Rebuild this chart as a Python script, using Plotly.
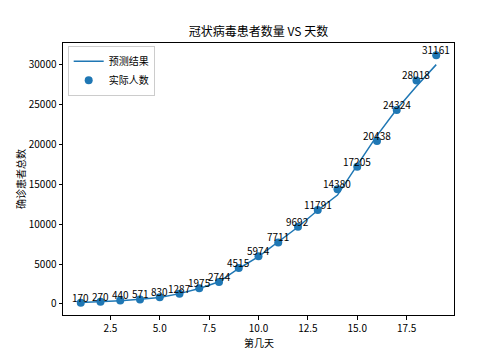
import plotly.graph_objects as go

days = list(range(1, 20))
actual = [170, 270, 440, 571, 830, 1287, 1975, 2744, 4515, 5974, 7711, 9692,
          11791, 14380, 17205, 20438, 24324, 28018, 31161]
predicted = [180, 265, 420, 580, 820, 1300, 1950, 2780, 4450, 5950, 7750, 9650,
             11750, 13650, 17400, 21100, 24400, 27300, 30000]

title = "冠状病毒患者数量 VS 天数"
xlabel = "第几天"
ylabel = "确诊患者总数"
line_name = "预测结果"
scatter_name = "实际人数"
x_ticks = [2.5, 5.0, 7.5, 10.0, 12.5, 15.0, 17.5]
x_tick_labels = ["2.5", "5.0", "7.5", "10.0", "12.5", "15.0", "17.5"]
y_ticks = [0, 5000, 10000, 15000, 20000, 25000, 30000]
y_tick_labels = ["0", "5000", "10000", "15000", "20000", "25000", "30000"]

FONT = "Noto Sans CJK SC"
BLUE = "#1f77b4"

fig = go.Figure()
fig.add_trace(go.Scatter(x=days, y=predicted, mode="lines", name=line_name,
                         line=dict(color=BLUE, width=1.5)))
fig.add_trace(go.Scatter(x=days, y=actual, mode="markers", name=scatter_name,
                         marker=dict(color=BLUE, size=8)))

for d, v in zip(days, actual):
    fig.add_annotation(x=d, y=v, text=str(v), showarrow=False,
                       xanchor="center", yanchor="bottom", yshift=-4,
                       font=dict(family=FONT, size=10, color="black"))

# axis titles
fig.add_annotation(xref="paper", yref="paper", x=0.5, y=-0.1, text=xlabel,
                   showarrow=False, xanchor="center", yanchor="middle",
                   font=dict(family=FONT, size=10, color="black"))
fig.add_annotation(xref="paper", yref="paper", x=-0.11, y=0.5, text=ylabel,
                   showarrow=False, xanchor="center", yanchor="middle", textangle=-90,
                   font=dict(family=FONT, size=10, color="black"))

lo, hi = min(actual), max(actual)
span = hi - lo
fig.update_layout(
    width=504, height=360,
    margin=dict(l=55, r=58, t=35, b=53, autoexpand=False),
    paper_bgcolor="white", plot_bgcolor="white",
    font=dict(family=FONT, size=10, color="black"),
    title=dict(text=title, x=0.497, xanchor="center", y=0.933, yanchor="middle",
               font=dict(family=FONT, size=12, color="black")),
    showlegend=True,
    legend=dict(x=0.012, y=0.99, xanchor="left", yanchor="top",
                bgcolor="rgba(255,255,255,0.8)", bordercolor="#cccccc", borderwidth=1,
                font=dict(family=FONT, size=10, color="black"),
                tracegroupgap=0, itemwidth=30),
)
fig.update_xaxes(range=[0.1, 19.9], tickvals=x_ticks, ticktext=x_tick_labels,
                 showline=True, linecolor="black", linewidth=1, mirror=True,
                 ticks="outside", ticklen=3.5, tickcolor="black", showgrid=False,
                 zeroline=False, automargin=False)
fig.update_yaxes(range=[lo - 0.05 * span, hi + 0.05 * span], tickvals=y_ticks,
                 ticktext=y_tick_labels,
                 showline=True, linecolor="black", linewidth=1, mirror=True,
                 ticks="outside", ticklen=3.5, tickcolor="black", showgrid=False,
                 zeroline=False, automargin=False)

fig.write_html("out.html")
